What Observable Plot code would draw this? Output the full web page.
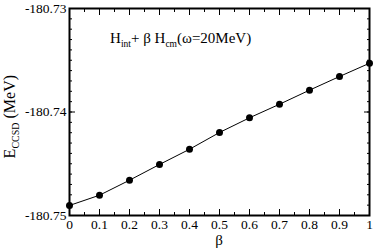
<!DOCTYPE html>
<html><head><meta charset="utf-8">
<script src="https://cdn.jsdelivr.net/npm/d3@7"></script>
<script src="https://cdn.jsdelivr.net/npm/@observablehq/plot@0.6"></script>
<style>body{margin:0;background:#fff} svg{display:block}</style>
</head><body><div id="chart"></div>
<script>
const beta = [0, 0.1, 0.2, 0.3, 0.4, 0.5, 0.6, 0.7, 0.8, 0.9, 1.0];
const energy = [-180.74903, -180.74804, -180.74659, -180.74507, -180.7436, -180.74198, -180.74056, -180.73925, -180.73789, -180.73657, -180.73529];
const xTicks = [0, 0.1, 0.2, 0.3, 0.4, 0.5, 0.6, 0.7, 0.8, 0.9, 1];
const xTickLabels = ["0", "0.1", "0.2", "0.3", "0.4", "0.5", "0.6", "0.7", "0.8", "0.9", "1"];
const yTicks = [-180.75, -180.74, -180.73];
const yTickLabels = ["-180.75", "-180.74", "-180.73"];
const xMinor = d3.range(0, 21).map(i => i * 0.05);
const yMinor = d3.range(0, 21).map(i => -180.75 + i * 0.001);

const data = beta.map((b, i) => ({beta: b, energy: energy[i]}));
const font = "'Liberation Serif', 'Times New Roman', serif";

const plot = Plot.plot({
  width: 374, height: 249,
  marginLeft: 69, marginRight: 5, marginTop: 8, marginBottom: 34,
  style: {fontFamily: font, fontSize: "13.5px", color: "black", background: "white"},
  x: {domain: [0, 1]},
  y: {domain: [-180.75, -180.73]},
  marks: [
    Plot.axisX(xMinor, {anchor: "bottom", tickSize: -3, fill: "none", label: null}),
    Plot.axisX(xMinor, {anchor: "top", tickSize: -3, fill: "none", label: null}),
    Plot.axisX(xTicks, {anchor: "bottom", tickSize: -6, fill: "none", label: null}),
    Plot.axisX(xTicks, {anchor: "top", tickSize: -6, fill: "none", label: null}),
    Plot.axisX(xTicks, {anchor: "bottom", tickSize: 0, tickPadding: 4, tickFormat: d => xTickLabels[xTicks.indexOf(d)], label: null}),
    Plot.axisY(yMinor, {anchor: "left", tickSize: -3, fill: "none", label: null}),
    Plot.axisY(yMinor, {anchor: "right", tickSize: -3, fill: "none", label: null}),
    Plot.axisY(yTicks, {anchor: "left", tickSize: -6, fill: "none", label: null}),
    Plot.axisY(yTicks, {anchor: "right", tickSize: -6, fill: "none", label: null}),
    Plot.axisY(yTicks, {anchor: "left", tickSize: 0, tickPadding: 3, tickFormat: d => yTickLabels[yTicks.indexOf(d)], label: null}),
    Plot.frame({stroke: "black", strokeWidth: 2}),
    Plot.line(data, {x: "beta", y: "energy", stroke: "black", strokeWidth: 1}),
    Plot.dot(data, {x: "beta", y: "energy", r: 3.5, fill: "black", stroke: "none"})
  ]
});

document.getElementById("chart").appendChild(plot);
const sx = plot.scale("x"), sy = plot.scale("y");
const svg = d3.select(plot);

// title annotation
const t = svg.append("text")
  .attr("x", sx.apply(0.137)).attr("y", sy.apply(-180.73338))
  .attr("text-anchor", "start")
  .attr("font-family", font).attr("font-size", 15).attr("fill", "black");
t.append("tspan").text("H");
t.append("tspan").attr("font-size", 9.5).attr("dy", 4).text("int");
t.append("tspan").attr("dy", -4).text("+ β H");
t.append("tspan").attr("font-size", 9.5).attr("dy", 4).text("cm");
t.append("tspan").attr("dy", -4).text("(ω=20MeV)");

// y label
const yl = svg.append("text")
  .attr("transform", `translate(15,${sy.apply(-180.7405)}) rotate(-90)`)
  .attr("text-anchor", "middle")
  .attr("font-family", font).attr("font-size", 16).attr("fill", "black");
yl.append("tspan").text("E");
yl.append("tspan").attr("font-size", 10).attr("dy", 4).text("CCSD");
yl.append("tspan").attr("dy", -4).text(" (MeV)");

// x label
svg.append("text")
  .attr("x", sx.apply(0.5)).attr("y", 245)
  .attr("text-anchor", "middle")
  .attr("font-family", font).attr("font-size", 15).attr("fill", "black")
  .text("β");
</script>
</body></html>
